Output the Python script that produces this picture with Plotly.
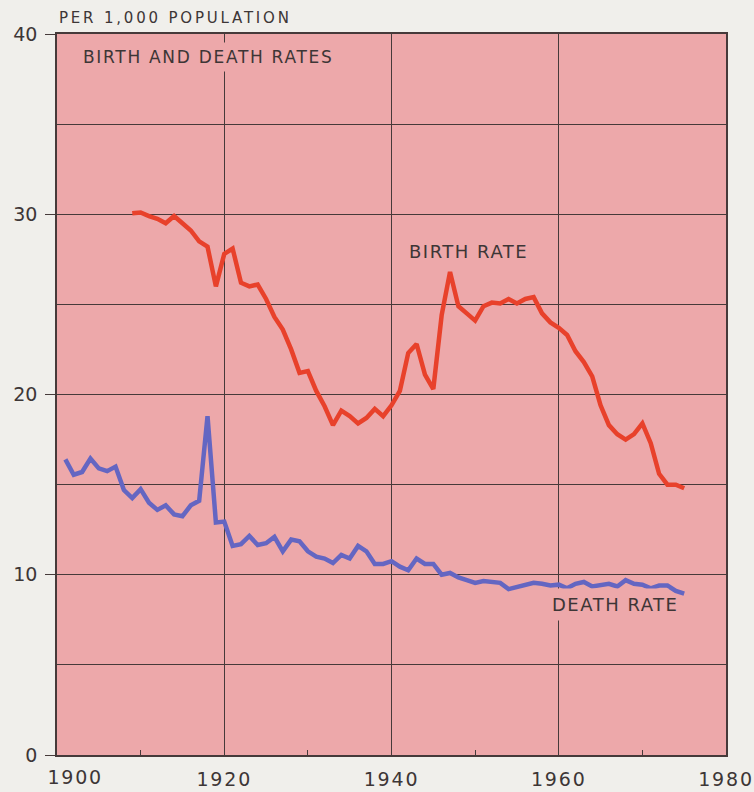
import plotly.graph_objects as go

# Crude birth and death rates, per 1,000 population
birth_years = list(range(1909, 1976))
birth_rate = [
    30.05, 30.1, 29.9, 29.75, 29.5, 29.9, 29.5, 29.1, 28.5, 28.2,   # 1909-1918
    26.0, 27.8, 28.1, 26.2, 26.0, 26.1, 25.3, 24.3, 23.6, 22.5,     # 1919-1928
    21.2, 21.3, 20.2, 19.35, 18.3, 19.1, 18.8, 18.4, 18.7, 19.2,    # 1929-1938
    18.8, 19.4, 20.2, 22.3, 22.8, 21.1, 20.3, 24.4, 26.8, 24.9,     # 1939-1948
    24.5, 24.1, 24.9, 25.1, 25.05, 25.3, 25.05, 25.3, 25.4, 24.5,   # 1949-1958
    24.0, 23.7, 23.3, 22.4, 21.8, 21.0, 19.4, 18.3, 17.8, 17.5,     # 1959-1968
    17.8, 18.4, 17.3, 15.6, 15.0, 15.0, 14.8,                       # 1969-1975
]

death_years = list(range(1901, 1976))
death_rate = [
    16.4, 15.55, 15.7, 16.45, 15.9, 15.75, 16.0, 14.7, 14.25,       # 1901-1909
    14.75, 14.0, 13.6, 13.85, 13.35, 13.25, 13.85, 14.1, 18.8,      # 1910-1918
    12.9, 12.95, 11.6, 11.7, 12.15, 11.65, 11.75, 12.1, 11.3,       # 1919-1927
    11.95, 11.85, 11.3, 11.0, 10.9, 10.65, 11.1, 10.9, 11.6,        # 1928-1936
    11.3, 10.6, 10.6, 10.75, 10.45, 10.25, 10.9, 10.6, 10.6,        # 1937-1945
    10.0, 10.1, 9.85, 9.7, 9.55, 9.65, 9.6, 9.55, 9.2,              # 1946-1954
    9.3, 9.45, 9.55, 9.5, 9.4, 9.45, 9.25, 9.5, 9.6,                # 1955-1963
    9.35, 9.45, 9.5, 9.35, 9.7, 9.5, 9.45, 9.25, 9.4,               # 1964-1972
    9.4, 9.1, 8.95,                                                 # 1973-1975
]

x_ticks = [1900, 1920, 1940, 1960, 1980]
y_ticks = [0, 10, 20, 30, 40]

PAGE = "#f0efeb"
PLOT = "#eda8aa"
GRID = "#463a3a"
TEXT = "#3d3636"
RED = "#e8412b"
BLUE = "#6466c2"
FONT = "DejaVu Sans"

fig = go.Figure()
fig.add_trace(go.Scatter(x=birth_years, y=birth_rate, mode="lines",
                         line=dict(color=RED, width=4.5), hoverinfo="x+y"))
fig.add_trace(go.Scatter(x=death_years, y=death_rate, mode="lines",
                         line=dict(color=BLUE, width=4.5), hoverinfo="x+y"))

fig.update_layout(
    width=754, height=792,
    margin=dict(l=57, r=28, t=34, b=37),
    paper_bgcolor=PAGE, plot_bgcolor=PLOT,
    showlegend=False,
    font=dict(family=FONT, color=TEXT, size=17),
)

# the first year label sits a little to the right of its gridline
x_text = ["" if v == x_ticks[0] else str(v) for v in x_ticks]

fig.update_xaxes(
    range=[1900, 1980], tickvals=x_ticks, ticktext=x_text,
    showgrid=True, gridcolor=GRID, gridwidth=1.3,
    showline=True, linecolor=GRID, linewidth=1.5, mirror=True,
    ticks="", tickfont=dict(size=19, family=FONT, color=TEXT),
    ticklabelstandoff=6, automargin=False,
    minor=dict(tickvals=[1910, 1930, 1950, 1970], ticks="inside",
               ticklen=5, tickcolor=GRID, tickwidth=1.3, showgrid=False),
    zeroline=False, fixedrange=True,
)
fig.update_yaxes(
    range=[0, 40], tickvals=y_ticks, ticktext=[str(v) for v in y_ticks],
    showgrid=True, gridcolor=GRID, gridwidth=1.3,
    showline=True, linecolor=GRID, linewidth=1.5, mirror=True,
    ticks="outside", ticklen=10, tickcolor=GRID, tickwidth=1.3,
    tickfont=dict(size=19, family=FONT, color=TEXT),
    ticklabelstandoff=4, automargin=False,
    minor=dict(dtick=5, showgrid=True, gridcolor=GRID, gridwidth=1.3),
    zeroline=False, fixedrange=True,
)

annotations = [
    dict(text="PER 1,000 POPULATION", xref="paper", yref="paper",
         x=0.0, y=1.0, yshift=16, xanchor="left", yanchor="middle",
         showarrow=False, font=dict(size=15, color=TEXT)),
    dict(text="BIRTH AND DEATH RATES", xref="x", yref="y",
         x=1902.5, y=38.7, xanchor="left", yanchor="middle",
         showarrow=False, bgcolor=PLOT, borderpad=4,
         font=dict(size=17, color=TEXT)),
    dict(text="BIRTH RATE", xref="x", yref="y",
         x=1941.9, y=27.95, xanchor="left", yanchor="middle",
         showarrow=False, font=dict(size=18, color=TEXT)),
    dict(text="DEATH RATE", xref="x", yref="y",
         x=1958.5, y=8.33, xanchor="left", yanchor="middle",
         showarrow=False, bgcolor=PLOT, borderpad=5,
         font=dict(size=18, color=TEXT)),
    dict(text=str(x_ticks[0]), xref="x", yref="paper",
         x=x_ticks[0], y=0.0, xshift=18, yshift=-22,
         xanchor="center", yanchor="middle",
         showarrow=False, font=dict(size=19, color=TEXT)),
]
fig.update_layout(annotations=annotations)

# wide letter spacing of the typeset labels; left-set labels keep their left edge
spacing_js = """
var gd = document.getElementById('{plot_id}');
gd.querySelectorAll('.annotation-text').forEach(function (t) {
  var s = t.textContent;
  var numeric = /^[0-9]+$/.test(s);
  var ls = 1.5;
  if (s.indexOf('PER 1,000') === 0) ls = 2.8;
  else if (s.indexOf('BIRTH AND') === 0) ls = 1.7;
  else if (numeric) ls = 1.8;
  var w0 = t.getComputedTextLength();
  t.style.letterSpacing = ls + 'px';
  var w1 = t.getComputedTextLength();
  if (!numeric) {
    var x = parseFloat(t.getAttribute('x') || '0');
    t.setAttribute('x', x + (w1 - w0) / 2);
  }
});
gd.querySelectorAll('.xtick text').forEach(function (t) {
  t.style.letterSpacing = '1.8px';
});
"""

fig.write_html("out.html", post_script=spacing_js)
